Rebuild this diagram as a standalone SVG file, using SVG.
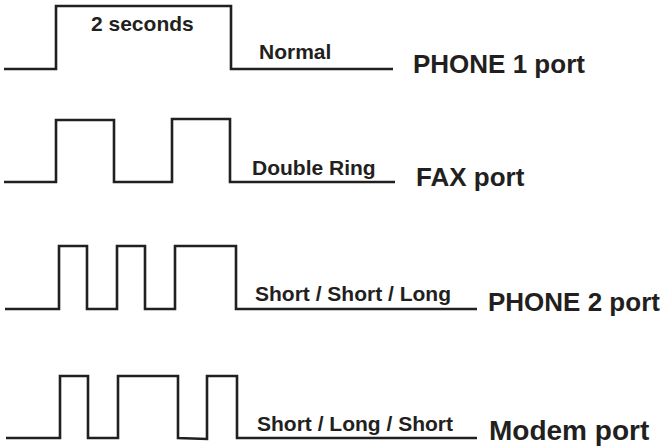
<svg xmlns="http://www.w3.org/2000/svg" width="666" height="446" viewBox="0 0 666 446">
  <style>
    .wave { fill: none; stroke: #231f20; stroke-width: 2.6; stroke-linejoin: miter; stroke-linecap: butt; }
    .lbl { font-family: "Liberation Sans", Arial, sans-serif; font-weight: bold; font-size: 21px; fill: #231f20; }
    .port { font-family: "Liberation Sans", Arial, sans-serif; font-weight: bold; font-size: 26px; fill: #231f20; }
  </style>
  <rect width="666" height="446" fill="#ffffff"/>
  <g id="phone1">
    <path class="wave" d="M4 69 H56 V6 H231 V69 H393"/>
    <text class="lbl" x="91" y="31">2 seconds</text>
    <text class="lbl" x="259" y="59">Normal</text>
    <text class="port" x="413" y="73">PHONE 1 port</text>
  </g>
  <g id="fax">
    <path class="wave" d="M4 182 H56 V120 H114 V182 H172 V119 H230 V182 H395"/>
    <text class="lbl" x="252" y="175">Double Ring</text>
    <text class="port" x="416" y="186">FAX port</text>
  </g>
  <g id="phone2">
    <path class="wave" d="M5 309 H59 V246 H87 V309 H117 V246 H145 V309 H175 V246 H236 V309 H477"/>
    <text class="lbl" x="255" y="301">Short / Short / Long</text>
    <text class="port" x="488" y="311">PHONE 2 port</text>
  </g>
  <g id="modem">
    <path class="wave" d="M6 438 H60 V376 H88 V438 H118 V376 H178 V438 L207 439 V376 H237 V438 H477"/>
    <text class="lbl" x="257" y="431">Short / Long / Short</text>
    <text class="port" x="489" y="440" style="font-size:28px">Modem port</text>
  </g>
</svg>
